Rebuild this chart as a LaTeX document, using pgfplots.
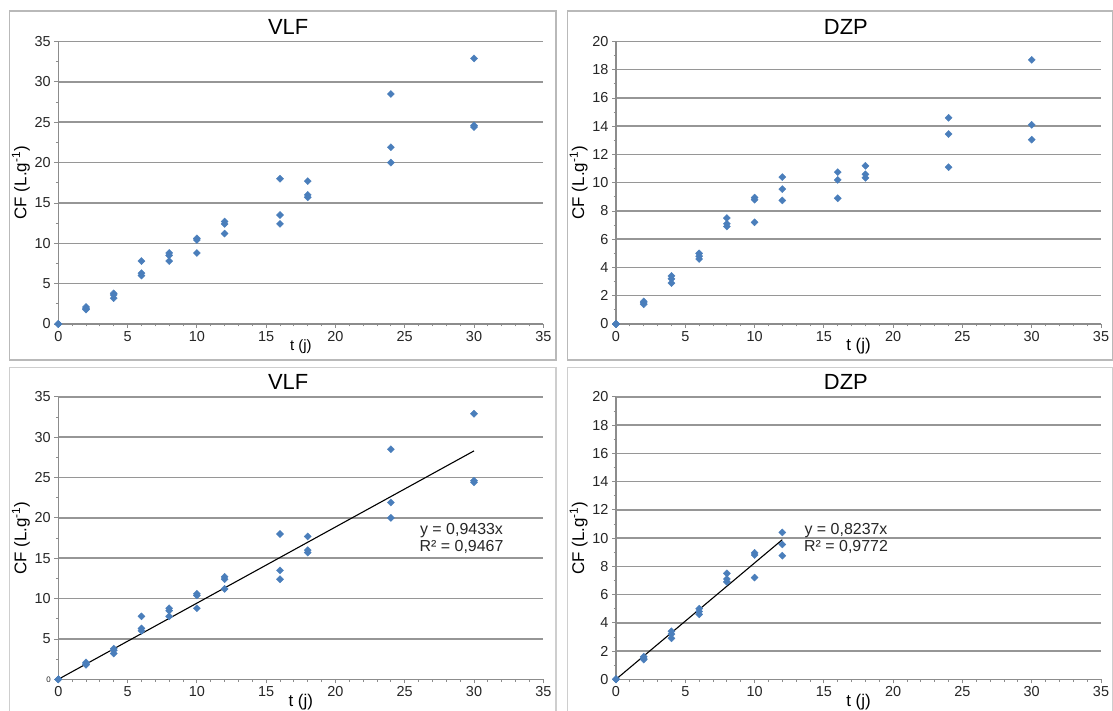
\documentclass[border=0pt]{standalone}
\usepackage{fontspec}
\setmainfont{Liberation Sans}
\usepackage{pgfplots}
\pgfplotsset{compat=1.18}
\definecolor{mk}{RGB}{74,126,187}
\definecolor{gridc}{RGB}{150,150,150}
\definecolor{axc}{RGB}{140,140,140}
\definecolor{framec}{RGB}{185,185,185}

\pgfplotsset{
 panel/.style={
  scale only axis, width=485bp, height=282.5bp,
  xmin=0, xmax=35, ymin=0,
  axis x line=bottom, axis y line=left,
  axis line style={-, axc, line width=1.1bp},
  xtick={0,5,...,35}, minor x tick num=4, minor y tick num=1,
  tick align=outside, major tick length=4bp, minor tick length=2.5bp,
  every tick/.style={axc, line width=0.8bp},
  ymajorgrids, major grid style={gridc, line width=1.5bp},
  /pgf/number format/assume math mode=true,
  tick label style={font=\fontsize{14.5}{14.5}\selectfont, text=black!85},
  title style={at={(0.474,1)}, anchor=center, yshift=8.5bp, font=\fontsize{22}{22}\selectfont},
  ylabel={CF (L.g\textsuperscript{-1})},
  ylabel style={at={(axis description cs:-0.077,0.5)}, anchor=center, font=\fontsize{17}{17}\selectfont},
  xlabel={t (j)},
  xlabel style={at={(axis description cs:0.5,-0.08)}, anchor=center, font=\fontsize{17}{17}\selectfont},
  clip=false,
 },
 pts/.style={only marks, mark=square*, mark size=2.5bp, mark options={rotate=45}, color=mk},
}

\pgfplotstableread{
x y
0 0
0 0
0 0
2 2.1
2 1.9
2 1.8
4 3.8
4 3.6
4 3.2
6 7.8
6 6.3
6 6.0
8 8.8
8 8.5
8 7.8
10 10.6
10 10.4
10 8.8
12 12.7
12 12.4
12 11.2
16 18.0
16 13.5
16 12.4
18 17.7
18 16.0
18 15.7
24 28.5
24 21.9
24 20.0
30 32.9
30 24.6
30 24.4
}\vlf

\pgfplotstableread{
x y
0 0
0 0
0 0
2 1.6
2 1.5
2 1.4
4 3.4
4 3.2
4 2.9
6 5.0
6 4.8
6 4.6
8 7.5
8 7.1
8 6.9
10 8.95
10 8.8
10 7.2
12 10.4
12 9.55
12 8.75
16 10.75
16 10.2
16 8.9
18 11.2
18 10.6
18 10.35
24 14.6
24 13.45
24 11.1
30 18.7
30 14.1
30 13.05
}\dzp

\pgfplotstableread{
x y
0 0
0 0
0 0
2 1.6
2 1.5
2 1.4
4 3.4
4 3.2
4 2.9
6 5.0
6 4.8
6 4.6
8 7.5
8 7.1
8 6.9
10 8.95
10 8.8
10 7.2
12 10.4
12 9.55
12 8.75
}\dzpfit

\begin{document}
\begin{tikzpicture}
\path[use as bounding box] (0,0) rectangle (1113bp,711bp);
\draw[framec, line width=1.2bp] (9.3bp,351bp) rectangle (556bp,700bp);
\draw[framec, line width=1.2bp] (567.7bp,351bp) rectangle (1112.3bp,700bp);
\draw[framec!70, line width=1.2bp] (9.3bp,-10bp) rectangle (556bp,343.3bp);
\draw[framec!70, line width=1.2bp] (567.7bp,-10bp) rectangle (1112.3bp,343.3bp);

% top-left
\begin{axis}[panel, at={(58.3bp,387bp)}, anchor=south west,
  ymax=35, ytick={0,5,...,35}, title={VLF},
  xlabel style={font=\fontsize{15}{15}\selectfont}]
\addplot[pts] table[x=x,y=y] {\vlf};
\end{axis}

% top-right
\begin{axis}[panel, at={(616bp,387bp)}, anchor=south west,
  ymax=20, ytick={0,2,...,20}, title={DZP}]
\addplot[pts] table[x=x,y=y] {\dzp};
\end{axis}

% bottom-left
\begin{axis}[panel, at={(58.3bp,31.7bp)}, anchor=south west,
  ymax=35, ytick={0,5,...,35},
  yticklabels={{\fontsize{8}{8}\selectfont 0},5,10,15,20,25,30,35},
  title={VLF}]
\addplot[pts] table[x=x,y=y] {\vlf};
\addplot[black, line width=1.1bp, no marks] coordinates {(0,0) (30,28.299)};
\node[align=center, font=\fontsize{16}{17}\selectfont, text=black!85] at (axis cs:29.1,17.4) {y = 0,9433x\\R² = 0,9467};
\end{axis}

% bottom-right
\begin{axis}[panel, at={(616bp,31.7bp)}, anchor=south west,
  ymax=20, ytick={0,2,...,20}, title={DZP}]
\addplot[pts] table[x=x,y=y] {\dzpfit};
\addplot[black, line width=1.1bp, no marks] coordinates {(0,0) (12,9.884)};
\node[align=center, font=\fontsize{16}{17}\selectfont, text=black!85] at (axis cs:16.6,9.95) {y = 0,8237x\\R² = 0,9772};
\end{axis}
\end{tikzpicture}
\end{document}
